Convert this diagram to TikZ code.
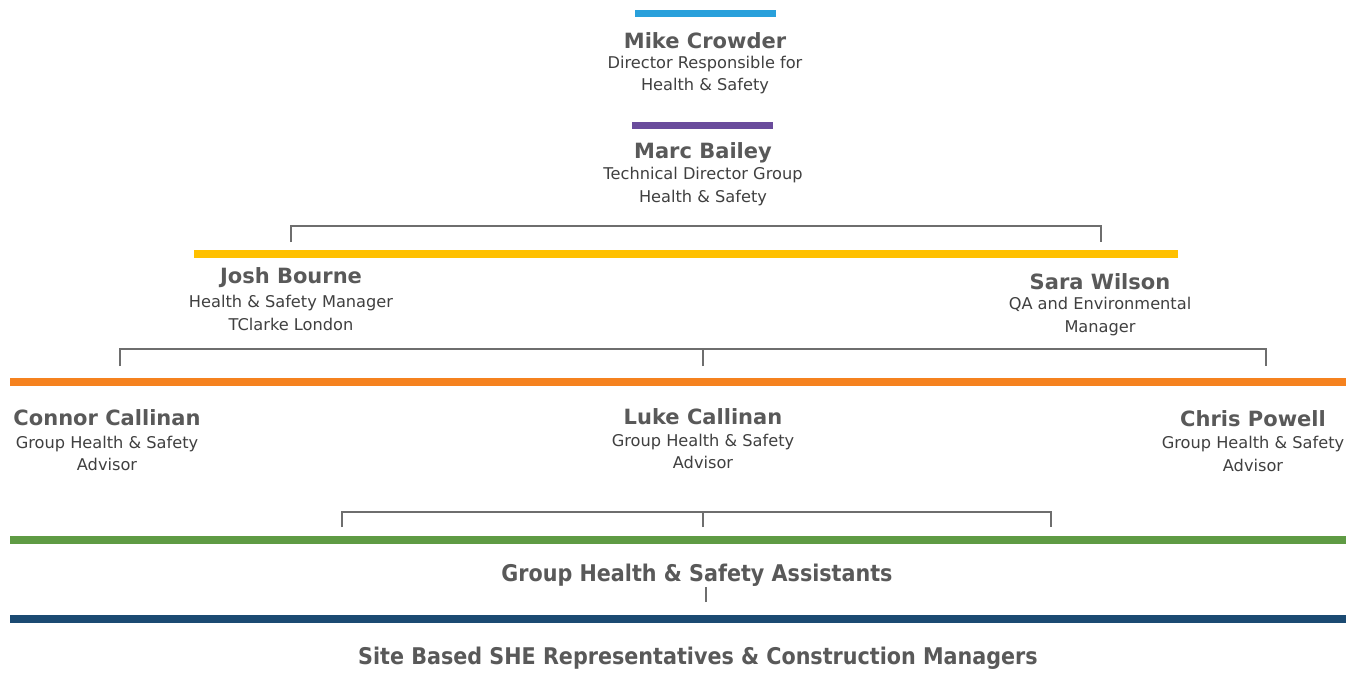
\documentclass[tikz,border=0pt]{standalone}
\usepackage{fontspec}
\setmainfont{DejaVu Sans}
\newfontfamily\condfont{DejaVu Sans}[FakeStretch=0.9]
\definecolor{cblue}{HTML}{29A0DB}
\definecolor{cpurple}{HTML}{6A4C9C}
\definecolor{cyellow}{HTML}{FFC000}
\definecolor{corange}{HTML}{F5821F}
\definecolor{cgreen}{HTML}{5F9B44}
\definecolor{cnavy}{HTML}{1B4A72}
\definecolor{clink}{HTML}{6E6E6E}
\definecolor{cname}{HTML}{595959}
\definecolor{crole}{HTML}{404040}
\tikzset{
  bar/.style={fill=#1, draw=none, inner sep=0pt, minimum height=7.5pt},
  pname/.style={text=cname, font=\fontsize{21}{25}\selectfont\bfseries, inner sep=0pt},
  prole/.style={text=crole, font=\fontsize{16.2}{22.5}\selectfont, align=center, inner sep=0pt},
  grouplabel/.style={text=cname, font=\condfont\fontsize{23}{26}\selectfont\bfseries, inner sep=0pt},
  link/.style={draw=clink, line width=1.4pt}
}
\begin{document}
\begin{tikzpicture}[x=1pt,y=-1pt]
\useasboundingbox (0,0) rectangle (1346,672);
\fill[white] (0,0) rectangle (1346,672);

% Director
\node[bar=cblue, minimum width=141pt] (barMike) at (705.5,13.5) {};
\node[pname] (mike) at (705,40.5) {Mike Crowder};
\node[prole] (mikeRole) at (705,75) {Director Responsible for\\Health \& Safety};

% Technical director
\node[bar=cpurple, minimum width=141pt] (barMarc) at (702.5,125.5) {};
\node[pname] (marc) at (703,152.5) {Marc Bailey};
\node[prole] (marcRole) at (703,186.5) {Technical Director Group\\Health \& Safety};

% Managers
\node[bar=cyellow, minimum width=984pt, minimum height=8pt] (barMgr) at (686,254) {};
\node[pname] (josh) at (291,278) {Josh Bourne};
\node[prole] (joshRole) at (291,313) {Health \& Safety Manager\\TClarke London};
\node[pname] (sara) at (1100,282) {Sara Wilson};
\node[prole] (saraRole) at (1100,316.5) {QA and Environmental\\Manager};

\coordinate (mgrL) at (291,242);
\coordinate (mgrR) at (1101,242);
\draw[link] (mgrL) -- ++(0,-16) -| (mgrR);

% Advisors
\node[bar=corange, minimum width=1336pt, minimum height=8pt] (barAdv) at (678,382) {};
\node[pname] (connor) at (107,418) {Connor Callinan};
\node[prole] (connorRole) at (107,453.5) {Group Health \& Safety\\Advisor};
\node[pname] (luke) at (703,417) {Luke Callinan};
\node[prole] (lukeRole) at (703,451.5) {Group Health \& Safety\\Advisor};
\node[pname] (chris) at (1253,419) {Chris Powell};
\node[prole] (chrisRole) at (1253,454) {Group Health \& Safety\\Advisor};

\coordinate (advL) at (120,366);
\coordinate (advM) at (703,366);
\coordinate (advR) at (1266,366);
\draw[link] (advL) -- ++(0,-17) -| (advR);
\draw[link] (advM) -- ++(0,-17);

% Assistants
\node[bar=cgreen, minimum width=1336pt, minimum height=8pt] (barAsst) at (678,540) {};
\node[grouplabel] (asst) at (697,575) {Group Health \& Safety Assistants};

\coordinate (asstL) at (342,527);
\coordinate (asstM) at (703,527);
\coordinate (asstR) at (1051,527);
\draw[link] (asstL) -- ++(0,-15) -| (asstR);
\draw[link] (asstM) -- ++(0,-15);

% Site staff
\node[bar=cnavy, minimum width=1336pt, minimum height=8pt] (barSite) at (678,619) {};
\node[grouplabel] (site) at (698,658) {Site Based SHE Representatives \& Construction Managers};
\coordinate (siteTop) at (706,602);
\draw[link] (siteTop) -- ++(0,-15);
\end{tikzpicture}
\end{document}
